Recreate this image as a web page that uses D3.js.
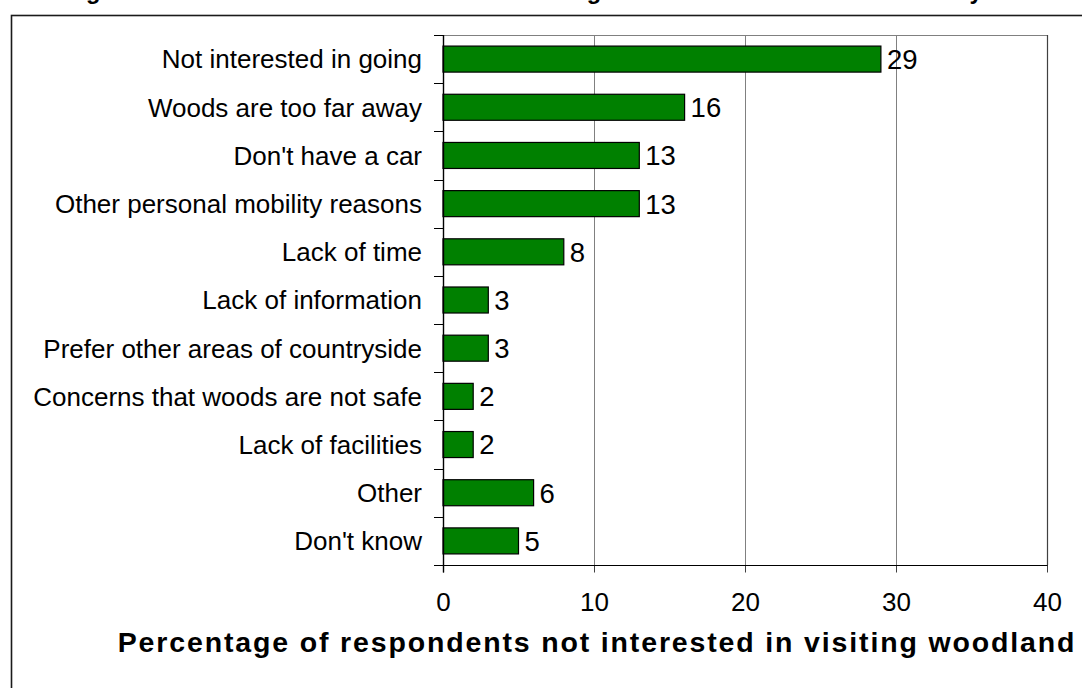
<!DOCTYPE html>
<html>
<head>
<meta charset="utf-8">
<script src="https://cdn.jsdelivr.net/npm/d3@7"></script>
<style>
  html, body { margin: 0; padding: 0; background: #fff; overflow: hidden; }
  text { font-family: "Liberation Sans", Arial, Helvetica, sans-serif; }
</style>
</head>
<body>
<svg id="chart" width="1082" height="688"></svg>
<script>
// Reasons given, top to bottom
const categories = [
  "Not interested in going",
  "Woods are too far away",
  "Don't have a car",
  "Other personal mobility reasons",
  "Lack of time",
  "Lack of information",
  "Prefer other areas of countryside",
  "Concerns that woods are not safe",
  "Lack of facilities",
  "Other",
  "Don't know"
];
// Percentage of respondents giving each reason
const values = [29, 16, 13, 13, 8, 3, 3, 2, 2, 6, 5];
const xTicks = [0, 10, 20, 30, 40];
const titleText = "Figure 4.14: Main reasons stated for not visiting woodland in the last four to five years";
const xAxisTitle = "Percentage of respondents not interested in visiting woodland";

const svg = d3.select("#chart");
const plot = { left: 443, right: 1047, top: 35, bottom: 565 };
const fontSize = 26;

const x = d3.scaleLinear().domain([0, 40]).range([plot.left, plot.right]);
const y = d3.scaleBand()
  .domain(categories)
  .range([plot.top, plot.bottom])
  .paddingInner(0.46)
  .paddingOuter(0.23);
const step = (plot.bottom - plot.top) / categories.length;

// Chart title (runs above the top of the frame)
svg.append("text")
  .attr("x", 65).attr("y", -1.2)
  .attr("font-size", 23.6).attr("font-weight", "bold")
  .text(titleText);

// Outer chart frame
svg.append("rect")
  .attr("x", 11.5).attr("y", 15.5)
  .attr("width", 1200).attr("height", 800)
  .attr("fill", "#fff")
  .attr("stroke", "#1a1a1a").attr("stroke-width", 1.6);

// Vertical gridlines
svg.append("g")
  .selectAll("line")
  .data(xTicks.filter(d => d > 0 && d < 40))
  .join("line")
  .attr("x1", d => Math.round(x(d)) + 0.5).attr("x2", d => Math.round(x(d)) + 0.5)
  .attr("y1", plot.top).attr("y2", plot.bottom)
  .attr("stroke", "#808080").attr("stroke-width", 1);

// Plot area border (top and right)
svg.append("line")
  .attr("x1", plot.left).attr("x2", plot.right + 0.5)
  .attr("y1", plot.top + 0.5).attr("y2", plot.top + 0.5)
  .attr("stroke", "#808080").attr("stroke-width", 1);
svg.append("line")
  .attr("x1", plot.right + 0.5).attr("x2", plot.right + 0.5)
  .attr("y1", plot.top).attr("y2", plot.bottom)
  .attr("stroke", "#404040").attr("stroke-width", 1.2);

const rows = categories.map((c, i) => ({ c, v: values[i] }));

// Bars
svg.append("g")
  .selectAll("rect")
  .data(rows)
  .join("rect")
  .attr("x", x(0))
  .attr("y", d => y(d.c))
  .attr("width", d => x(d.v) - x(0))
  .attr("height", y.bandwidth())
  .attr("fill", "#008000")
  .attr("stroke", "#000").attr("stroke-width", 1.2);

// Value labels
svg.append("g")
  .selectAll("text")
  .data(rows)
  .join("text")
  .attr("x", d => x(d.v) + 6)
  .attr("y", d => y(d.c) + y.bandwidth() / 2)
  .attr("dy", "0.36em")
  .attr("font-size", 27.5)
  .attr("fill", "#000")
  .text(d => d.v);

// X axis
const xAxis = svg.append("g")
  .attr("transform", `translate(0,${plot.bottom})`)
  .call(d3.axisBottom(x).tickValues(xTicks).tickSize(7.5).tickSizeOuter(0).tickPadding(20));
xAxis.select(".domain").remove();
xAxis.selectAll(".tick line").attr("stroke", "#404040");
xAxis.selectAll(".tick text")
  .attr("font-size", fontSize)
  .attr("font-family", "Liberation Sans, Arial, sans-serif")
  .attr("fill", "#000");
svg.append("line")
  .attr("x1", plot.left - 9).attr("x2", plot.right + 0.5)
  .attr("y1", plot.bottom + 0.5).attr("y2", plot.bottom + 0.5)
  .attr("stroke", "#000").attr("stroke-width", 1.2);

// Y axis with ticks between categories
svg.append("line")
  .attr("x1", plot.left + 0.5).attr("x2", plot.left + 0.5)
  .attr("y1", plot.top).attr("y2", plot.bottom + 7.5)
  .attr("stroke", "#000").attr("stroke-width", 1.4);
svg.append("g")
  .selectAll("line")
  .data(d3.range(categories.length + 1))
  .join("line")
  .attr("x1", plot.left - 9).attr("x2", plot.left)
  .attr("y1", i => Math.round(plot.top + i * step) + 0.5)
  .attr("y2", i => Math.round(plot.top + i * step) + 0.5)
  .attr("stroke", "#000").attr("stroke-width", 1);

// Category labels
svg.append("g")
  .selectAll("text")
  .data(categories)
  .join("text")
  .attr("x", 422)
  .attr("y", d => y(d) + y.bandwidth() / 2)
  .attr("dy", "0.36em")
  .attr("text-anchor", "end")
  .attr("font-size", fontSize)
  .attr("fill", "#000")
  .text(d => d);

// X axis title
svg.append("text")
  .attr("x", 597).attr("y", 652)
  .attr("text-anchor", "middle")
  .attr("font-size", 28.5).attr("font-weight", "bold")
  .attr("letter-spacing", 1.85)
  .attr("fill", "#000")
  .text(xAxisTitle);
</script>
</body>
</html>
